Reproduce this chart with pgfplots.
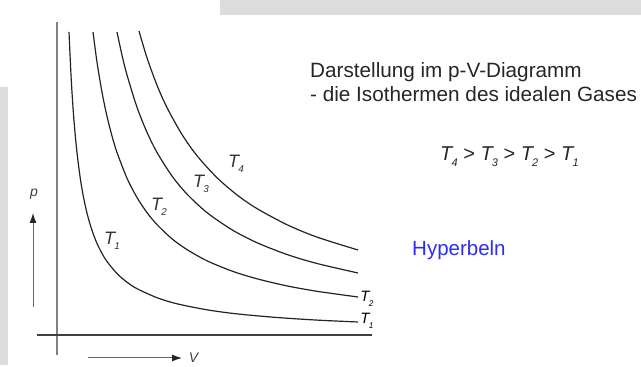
\documentclass[border=0pt]{standalone}
\usepackage{pgfplots}
\pgfplotsset{compat=1.18}
\usepackage{fontspec}
\setmainfont{Liberation Sans}
\usetikzlibrary{arrows.meta}

\definecolor{curve}{RGB}{35,35,35}
\definecolor{slidegray}{RGB}{220,220,220}
\definecolor{hyper}{RGB}{45,45,245}
\definecolor{arrowgray}{RGB}{95,100,125}

% T with a small lowered index, all italic
\newcommand{\Tidx}[1]{\textit{T}\kern-0.1em\raisebox{-0.3em}{\fontsize{0.55em}{0.6em}\selectfont\textit{#1}}}

\begin{document}
\begin{tikzpicture}
\begin{axis}[
  scale only axis,
  width=641pt, height=365pt,
  xmin=-57, xmax=584, ymin=-30, ymax=335,
  hide axis,
  clip=false,
]
% slide background pieces
\fill[slidegray] (axis cs:163,320) rectangle (axis cs:584,335);
\fill[slidegray] (axis cs:-57,-30) rectangle (axis cs:-49,248);

% coordinate axes
\draw[line width=1.3pt, color=gray] (axis cs:0,313) -- (axis cs:0,-20);
\draw[line width=1.3pt, color=black!75] (axis cs:-20,0) -- (axis cs:315,0);

% isotherms p = const / V
\addplot[smooth, line width=1.2pt, color=curve] coordinates {
(12,303.1) (14,259.9) (16,227.6) (18,202.4) (20,182.3) (23,158.6) (26,140.4)
(30,121.8) (35,104.6) (40,91.6) (45,81.6) (50,73.5) (60,61.4) (70,52.8)
(80,46.3) (100,37.3) (120,31.2) (150,25.2) (180,21.1) (220,17.5) (260,14.9) (301,13.0)};
\addplot[smooth, line width=1.2pt, color=curve] coordinates {
(36,303.0) (40,272.9) (45,242.8) (50,218.7) (55,199.0) (60,182.6) (70,156.8)
(80,137.5) (90,122.4) (100,110.4) (115,96.2) (130,85.4) (150,74.2) (175,63.9)
(200,56.2) (230,49.1) (260,43.7) (301,38.0)};
\addplot[smooth, line width=1.2pt, color=curve] coordinates {
(60,303.0) (65,279.8) (70,260.0) (80,227.7) (90,202.7) (100,182.6) (115,159.0)
(130,140.9) (150,122.4) (175,105.2) (200,92.3) (230,80.5) (260,71.5) (301,62.0)};
\addplot[smooth, line width=1.2pt, color=curve] coordinates {
(82,304.0) (90,277.2) (100,249.8) (110,227.4) (125,200.5) (140,179.3) (160,157.3)
(180,140.1) (200,126.4) (230,110.3) (260,97.9) (301,85.0)};

% curve labels
\node[font=\fontsize{18}{18}\selectfont, text=black!80] at (axis cs:55,94) {\Tidx{1}};
\node[font=\fontsize{18}{18}\selectfont, text=black!80] at (axis cs:102,128) {\Tidx{2}};
\node[font=\fontsize{18}{18}\selectfont, text=black!80] at (axis cs:144,151) {\Tidx{3}};
\node[font=\fontsize{18}{18}\selectfont, text=black!80] at (axis cs:179,171) {\Tidx{4}};
\node[font=\fontsize{15}{15}\selectfont, text=black] at (axis cs:310,36) {\Tidx{2}};
\node[font=\fontsize{15}{15}\selectfont, text=black] at (axis cs:310,14) {\Tidx{1}};

% axis arrows and names
\draw[line width=1pt, color=arrowgray, -{Latex[length=10pt,width=7pt,color=black!85]}] (axis cs:-24,28) -- (axis cs:-24,122);
\node[font=\fontsize{14}{14}\selectfont, text=black!75] at (axis cs:-23,141) {\textit{p}};
\draw[line width=1pt, color=arrowgray, -{Latex[length=10pt,width=7pt,color=black!85]}] (axis cs:31,-23) -- (axis cs:125,-23);
\node[font=\fontsize{14}{14}\selectfont, text=black!75] at (axis cs:137,-23) {\textit{V}};

% text
\node[anchor=base west, inner sep=0pt, font=\fontsize{20.7}{24}\selectfont, text=black!85]
  at (axis cs:253,257) {Darstellung im p-V-Diagramm};
\node[anchor=base west, inner sep=0pt, font=\fontsize{20.7}{24}\selectfont, text=black!85]
  at (axis cs:253,233) {- die Isothermen des idealen Gases};
\node[anchor=base west, inner sep=0pt, font=\fontsize{20}{24}\selectfont, text=black!85]
  at (axis cs:383,174) {\Tidx{4} > \Tidx{3} > \Tidx{2} > \Tidx{1}};
\node[anchor=base west, inner sep=0pt, font=\fontsize{20.5}{24}\selectfont, text=hyper]
  at (axis cs:355,79) {Hyperbeln};
\end{axis}
\end{tikzpicture}
\end{document}
